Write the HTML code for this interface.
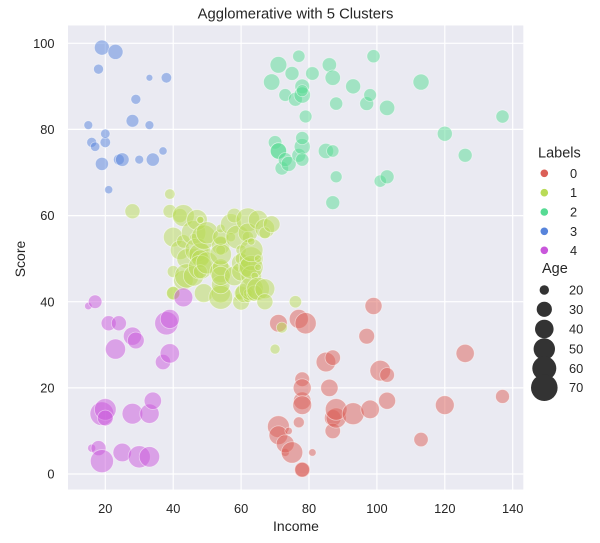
<!DOCTYPE html>
<html><head><meta charset="utf-8">
<style>
body{margin:0;background:#fff}
svg{display:block}
text{font-family:"Liberation Sans",Arial,sans-serif;fill:#262626}
</style></head>
<body>
<svg id="s" width="600" height="543" xmlns="http://www.w3.org/2000/svg">
<rect x="0" y="0" width="600" height="543" fill="#fff"/>
<rect x="68" y="25.5" width="455.3" height="464" fill="#eaeaf2"/>
<g stroke="#fff" stroke-width="1.2">
<line x1="105.3" y1="25.5" x2="105.3" y2="489.5"/>
<line x1="173.2" y1="25.5" x2="173.2" y2="489.5"/>
<line x1="241.1" y1="25.5" x2="241.1" y2="489.5"/>
<line x1="309.0" y1="25.5" x2="309.0" y2="489.5"/>
<line x1="376.9" y1="25.5" x2="376.9" y2="489.5"/>
<line x1="444.8" y1="25.5" x2="444.8" y2="489.5"/>
<line x1="512.7" y1="25.5" x2="512.7" y2="489.5"/>
<line x1="68" y1="474" x2="523.3" y2="474"/>
<line x1="68" y1="387.9" x2="523.3" y2="387.9"/>
<line x1="68" y1="301.7" x2="523.3" y2="301.7"/>
<line x1="68" y1="215.6" x2="523.3" y2="215.6"/>
<line x1="68" y1="129.4" x2="523.3" y2="129.4"/>
<line x1="68" y1="43.3" x2="523.3" y2="43.3"/>
</g>
<g id="pts"></g>
<text x="295.5" y="18.5" font-size="14.8" text-anchor="middle">Agglomerative with 5 Clusters</text>
<g font-size="12.8" text-anchor="middle">
<text x="105.3" y="513">20</text>
<text x="173.2" y="513">40</text>
<text x="241.1" y="513">60</text>
<text x="309.0" y="513">80</text>
<text x="376.9" y="513">100</text>
<text x="444.8" y="513">120</text>
<text x="512.7" y="513">140</text>
</g>
<g font-size="12.8" text-anchor="end">
<text x="54.5" y="478.6">0</text>
<text x="54.5" y="392.5">20</text>
<text x="54.5" y="306.3">40</text>
<text x="54.5" y="220.2">60</text>
<text x="54.5" y="134">80</text>
<text x="54.5" y="47.9">100</text>
</g>
<text x="296" y="531" font-size="14" text-anchor="middle">Income</text>
<text transform="translate(25,259) rotate(-90)" font-size="14" text-anchor="middle">Score</text>
<text x="538" y="157.3" font-size="14.5">Labels</text>
<circle cx="544.3" cy="173.3" r="3.8" fill="#db5f57"/>
<circle cx="544.3" cy="192.7" r="3.8" fill="#b9db57"/>
<circle cx="544.3" cy="212" r="3.8" fill="#57db94"/>
<circle cx="544.3" cy="231.3" r="3.8" fill="#5784db"/>
<circle cx="544.3" cy="250.3" r="3.8" fill="#c957db"/>
<g font-size="12.8">
<text x="570" y="177.8">0</text>
<text x="570" y="197.2">1</text>
<text x="570" y="216.5">2</text>
<text x="570" y="235.8">3</text>
<text x="570" y="254.8">4</text>
</g>
<text x="542" y="273" font-size="14.5">Age</text>
<g fill="#333">
<circle cx="544.3" cy="290" r="4.7"/>
<circle cx="544.3" cy="309.3" r="7.6"/>
<circle cx="544.3" cy="329" r="9.3"/>
<circle cx="544.3" cy="349" r="10.7"/>
<circle cx="544.3" cy="368.3" r="12"/>
<circle cx="544.3" cy="387.7" r="13.3"/>
</g>
<g font-size="12.8">
<text x="569" y="294.5">20</text>
<text x="569" y="313.8">30</text>
<text x="569" y="333.5">40</text>
<text x="569" y="353.5">50</text>
<text x="569" y="372.8">60</text>
<text x="569" y="392.2">70</text>
</g>
</svg>
<script>
var D=[[19,15,39],[21,15,81],[20,16,6],[23,16,77],[31,17,40],[22,17,76],[35,18,6],[23,18,94],[64,19,3],[30,19,72],
[67,19,14],[35,19,99],[58,20,15],[24,20,77],[37,20,13],[22,20,79],[35,21,35],[20,21,66],[52,23,29],[35,23,98],
[35,24,35],[25,24,73],[46,25,5],[31,25,73],[54,28,14],[29,28,82],[45,28,32],[35,28,61],[40,29,31],[23,29,87],
[60,30,4],[21,30,73],[53,33,4],[18,33,92],[49,33,14],[21,33,81],[42,34,17],[30,34,73],[36,37,26],[20,37,75],
[65,38,35],[24,38,92],[48,39,36],[31,39,61],[49,39,28],[24,39,65],[50,40,55],[27,40,47],[29,40,42],[31,40,42],
[49,42,52],[33,42,60],[31,43,54],[59,43,60],[50,43,45],[47,43,41],[51,44,50],[69,44,46],[27,46,51],[53,46,46],
[70,46,56],[19,46,55],[67,47,52],[54,47,59],[63,48,51],[18,48,59],[43,48,50],[68,48,48],[19,48,59],[32,48,47],
[70,49,55],[47,49,42],[60,50,49],[60,50,56],[59,54,47],[26,54,54],[45,54,53],[40,54,48],[23,54,52],[49,54,42],
[57,54,51],[38,54,55],[67,54,41],[46,54,44],[21,54,57],[48,54,46],[55,57,58],[22,57,55],[34,58,60],[50,58,46],
[68,59,55],[18,59,41],[48,60,49],[40,60,40],[32,60,42],[24,60,52],[47,60,47],[27,60,50],[48,61,42],[20,61,49],
[23,62,41],[49,62,48],[67,62,59],[26,62,55],[49,62,56],[21,62,42],[66,63,50],[54,63,46],[68,63,43],[66,63,48],
[65,63,52],[19,63,54],[38,64,42],[19,64,46],[18,65,48],[19,65,50],[63,65,43],[49,65,59],[51,67,43],[50,67,57],
[27,67,56],[38,67,40],[40,69,58],[39,69,91],[23,70,29],[31,70,77],[43,71,35],[40,71,95],[59,71,11],[38,71,75],
[47,71,9],[39,71,75],[25,72,34],[31,72,71],[20,73,5],[29,73,88],[44,73,7],[32,73,73],[19,74,10],[35,74,72],
[57,75,5],[32,75,93],[28,76,40],[32,76,87],[25,77,12],[28,77,97],[48,77,36],[32,77,74],[34,78,22],[34,78,90],
[43,78,17],[39,78,88],[44,78,20],[38,78,76],[47,78,16],[27,78,89],[37,78,1],[30,78,78],[34,78,1],[30,78,73],
[56,79,35],[29,79,83],[19,81,5],[31,81,93],[50,85,26],[36,85,75],[42,86,20],[33,86,95],[36,87,27],[32,87,63],
[40,87,13],[28,87,75],[36,87,10],[36,87,92],[52,88,13],[30,88,86],[58,88,15],[27,88,69],[59,93,14],[35,93,90],
[37,97,32],[32,97,86],[46,98,15],[29,98,88],[41,99,39],[30,99,97],[54,101,24],[28,101,68],[41,103,17],[36,103,85],
[34,103,23],[32,103,69],[33,113,8],[38,113,91],[47,120,16],[35,120,79],[45,126,28],[32,126,74],[32,137,18],[30,137,83]];
var C=['#db5f57','#b9db57','#57db94','#5784db','#c957db'];
function cl(id){
 if(id<=46){ if(id==28||id==44||id==46) return 1; return id%2==0?3:4; }
 if(id==56) return 4;
 if(id<=123) return 1;
 if(id==125||id==133||id==143) return 1;
 return id%2==0?2:0;
}
var g=document.getElementById('pts'),ns='http://www.w3.org/2000/svg';
for(var i=0;i<D.length;i++){
 var a=D[i][0],inc=D[i][1],sc=D[i][2];
 var c=document.createElementNS(ns,'circle');
 c.setAttribute('cx',(37.4+3.395*inc).toFixed(2));
 c.setAttribute('cy',(474-4.307*sc).toFixed(2));
 c.setAttribute('r',Math.sqrt(Math.max(9,14+2.65*(a-19))).toFixed(2));
 c.setAttribute('fill',C[cl(i+1)]);
 c.setAttribute('fill-opacity','0.5');
 c.setAttribute('stroke','#fff');
 c.setAttribute('stroke-opacity','0.5');
 c.setAttribute('stroke-width','0.8');
 g.appendChild(c);
}
</script>
</body></html>
